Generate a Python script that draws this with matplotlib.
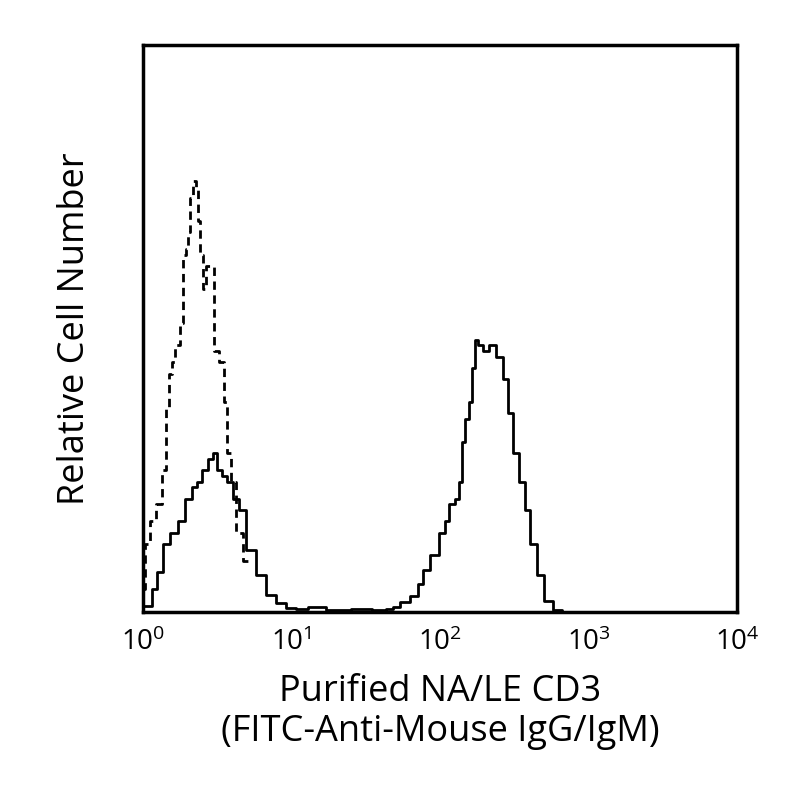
import matplotlib
matplotlib.use("Agg")
import matplotlib.pyplot as plt

# Values (x in fluorescence units, y in % of axis height)
ctrl_x = [1.0, 1.06, 1.15, 1.29, 1.39, 1.45, 1.54, 1.60, 1.70, 1.84, 1.89, 1.97,
          2.03, 2.13, 2.23, 2.28, 2.40, 2.45, 2.57, 2.73, 2.92, 3.03, 3.45, 3.55,
          3.78, 4.05, 4.38, 5.04]
ctrl_y = [4, 12, 16, 19, 25, 36, 42, 44, 47, 51, 63, 64, 67, 73, 76, 75, 69, 63,
          57, 61, 61, 46, 44, 37, 28, 23, 14, 9]

samp_x = [1.0, 1.11, 1.20, 1.29, 1.43, 1.61, 1.81, 2.03, 2.20, 2.38, 2.58, 2.88,
          3.02, 3.27, 3.55, 3.84, 4.17, 4.65, 5.27, 6.17, 7.23, 8.46, 9.9, 11.6,
          14.0, 20.0, 30.0, 40.0, 46.0, 50.0, 58.0, 68.0, 73.0, 79.0, 92.6, 103,
          111, 120, 130, 136, 143, 152, 159, 167, 175, 186, 201, 224, 254, 274,
          296, 320, 357, 385, 423, 471, 534, 623, 700]
samp_y = [1, 1, 4, 7, 12, 14, 16, 20, 22, 23, 25, 27, 28, 25, 24, 23, 20, 18, 11,
          6.5, 3, 1.6, 0.7, 0.5, 0.8, 0.4, 0.6, 0.3, 0.5, 0.9, 1.8, 2.8, 5, 7.4,
          10, 14, 16, 19, 20, 23, 30, 34, 37, 43, 48, 47, 46, 47, 45, 41, 35, 28,
          23, 18, 12, 6.5, 2, 0.3, 0]

plt.rcParams["font.family"] = ["Open Sans", "DejaVu Sans"]

fig = plt.figure(figsize=(8, 8), dpi=100)
ax = fig.add_axes([0.179, 0.235, 0.7425, 0.709])

ax.step(ctrl_x, ctrl_y, where="mid", color="black", lw=2, ls=(0, (3, 2)))
ax.step(samp_x, samp_y, where="mid", color="black", lw=2)

ax.set_xscale("log")
ax.set_xlim(1, 1e4)
ax.set_ylim(0, 100)
ax.set_yticks([])
ax.set_xticks([1, 10, 100, 1000, 10000])
ax.minorticks_off()
ax.tick_params(axis="x", length=0, pad=12, labelsize=20)
for s in ax.spines.values():
    s.set_linewidth(2.5)

ax.set_ylabel("Relative Cell Number", fontsize=26, labelpad=36)
ax.set_xlabel("Purified NA/LE CD3\n(FITC-Anti-Mouse IgG/IgM)", fontsize=26,
              labelpad=12, linespacing=1.15)

fig.savefig("out.png", dpi=100)
